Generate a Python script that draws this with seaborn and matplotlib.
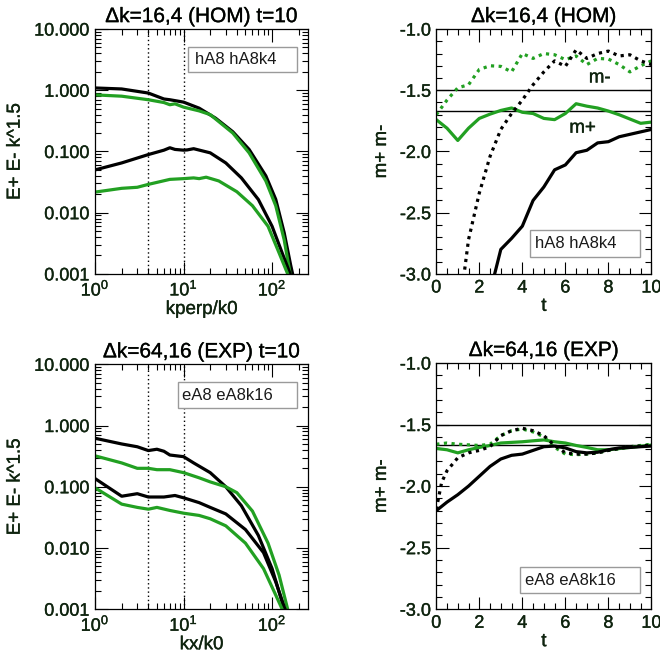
import numpy as np
import pandas as pd
import matplotlib
matplotlib.use('Agg')
import matplotlib.pyplot as plt
import matplotlib.ticker as mticker
import matplotlib.patheffects as pe
from matplotlib.patches import Rectangle
import seaborn as sns

# ---- spectra, HOM run (top left) ----
hom_black_hi_k = [1, 2, 4, 6, 7, 10, 15, 23, 36, 55, 85, 110, 137, 162, 180]
hom_black_hi = [1.09, 1.05, 0.90, 0.72, 0.70, 0.64, 0.51, 0.35, 0.21, 0.108, 0.040, 0.0165, 0.0047, 0.0014, 0.0007]
hom_green_hi_k = [1, 2, 4, 6, 7, 8, 10, 15, 20, 36, 55, 85, 110, 137, 160, 175]
hom_green_hi = [0.84, 0.80, 0.70, 0.63, 0.58, 0.60, 0.53, 0.46, 0.40, 0.20, 0.095, 0.033, 0.013, 0.0036, 0.001, 0.0005]
hom_black_lo_k = [1, 2, 4, 6, 7, 8, 10, 11, 13, 20, 30, 45, 70, 100, 130, 160, 175]
hom_black_lo = [0.050, 0.065, 0.089, 0.105, 0.115, 0.108, 0.105, 0.106, 0.111, 0.095, 0.065, 0.037, 0.0164, 0.006, 0.0022, 0.001, 0.0006]
hom_green_lo_k = [1, 2, 3, 4, 7, 10, 13, 15, 18, 25, 40, 60, 90, 120, 150, 165]
hom_green_lo = [0.0217, 0.025, 0.026, 0.029, 0.035, 0.036, 0.037, 0.036, 0.038, 0.033, 0.022, 0.013, 0.006, 0.0022, 0.001, 0.0006]

# ---- spectra, EXP run (bottom left) ----
exp_black_hi_k = [1, 2, 3, 4, 5, 6, 7, 10, 13, 20, 30, 45, 70, 100, 130, 145]
exp_black_hi = [0.62, 0.50, 0.45, 0.39, 0.41, 0.38, 0.33, 0.31, 0.245, 0.17, 0.10, 0.049, 0.016, 0.0046, 0.0013, 0.0007]
exp_green_hi_k = [1, 2, 3, 4, 5, 7, 10, 15, 20, 30, 40, 60, 90, 120, 150, 160]
exp_green_hi = [0.32, 0.245, 0.20, 0.20, 0.19, 0.19, 0.17, 0.14, 0.12, 0.10, 0.08, 0.04, 0.012, 0.0036, 0.001, 0.0007]
exp_black_lo_k = [1, 2, 3, 4, 6, 8, 10, 15, 20, 30, 50, 80, 110, 140, 150]
exp_black_lo = [0.136, 0.070, 0.077, 0.068, 0.068, 0.072, 0.066, 0.055, 0.046, 0.036, 0.020, 0.0084, 0.0028, 0.001, 0.0007]
exp_green_lo_k = [1, 2, 3, 4, 5, 7, 10, 15, 20, 30, 50, 80, 110, 130, 140]
exp_green_lo = [0.096, 0.052, 0.046, 0.043, 0.046, 0.041, 0.037, 0.034, 0.030, 0.023, 0.012, 0.0046, 0.0017, 0.001, 0.0007]

# ---- slopes vs time, HOM run (top right) ----
t_half = [0, 0.5, 1, 1.5, 2, 2.5, 3, 3.5, 4, 4.5, 5, 5.5, 6, 6.5, 7, 7.5, 8, 8.5, 9, 9.5, 10]
hom_green_mplus = [-1.74, -1.81, -1.91, -1.81, -1.73, -1.695, -1.665, -1.645, -1.68, -1.69, -1.73, -1.74,
                   -1.69, -1.61, -1.63, -1.645, -1.67, -1.70, -1.735, -1.77, -1.76]
hom_green_mminus = [-1.70, -1.58, -1.48, -1.455, -1.33, -1.30, -1.305, -1.35, -1.20, -1.24, -1.20, -1.21,
                    -1.25, -1.22, -1.29, -1.24, -1.245, -1.29, -1.35, -1.30, -1.26]
t_hom_black_mminus = [1, 1.5, 2, 2.5, 3, 3.5, 4, 4.5, 5, 5.5, 6, 6.5, 7, 7.5, 8, 8.5, 9, 9.5, 10]
hom_black_mminus = [-3.4, -2.72, -2.34, -2.04, -1.82, -1.69, -1.58, -1.455, -1.35, -1.26, -1.305, -1.17,
                    -1.24, -1.20, -1.18, -1.22, -1.21, -1.26, -1.29]
t_hom_black_mplus = [2.5, 3, 3.5, 4, 4.5, 5, 5.5, 6, 6.5, 7, 7.5, 8, 8.5, 9, 9.5, 10]
hom_black_mplus = [-3.15, -2.80, -2.71, -2.61, -2.40, -2.29, -2.15, -2.11, -2.01, -1.99, -1.93, -1.92,
                   -1.88, -1.86, -1.84, -1.82]

# ---- slopes vs time, EXP run (bottom right) ----
exp_green_mplus = [-1.694, -1.705, -1.73, -1.705, -1.686, -1.67, -1.65, -1.645, -1.64, -1.632, -1.625, -1.64,
                   -1.65, -1.67, -1.686, -1.705, -1.705, -1.695, -1.686, -1.676, -1.667]
exp_green_mminus = [-1.66, -1.65, -1.66, -1.665, -1.67, -1.66, -1.59, -1.55, -1.536, -1.56, -1.60, -1.685,
                    -1.74, -1.745, -1.74, -1.73, -1.71, -1.695, -1.68, -1.67, -1.66]
t_exp_black_mminus = [0, 0.25, 0.5, 1, 1.5, 2, 2.5, 3, 3.5, 4, 4.5, 5, 5.5, 6, 6.5, 7, 7.5, 8, 8.5, 9, 9.5, 10]
exp_black_mminus = [-2.19, -1.97, -1.875, -1.77, -1.73, -1.71, -1.68, -1.59, -1.55, -1.53, -1.55, -1.59,
                    -1.67, -1.73, -1.74, -1.74, -1.73, -1.71, -1.695, -1.68, -1.675, -1.667]
exp_black_mplus = [-2.20, -2.13, -2.07, -2.0, -1.92, -1.84, -1.78, -1.75, -1.74, -1.71, -1.68, -1.675,
                   -1.69, -1.72, -1.73, -1.725, -1.705, -1.69, -1.686, -1.68, -1.675]

GREEN = '#22a022'
TXT = '#0f240f'
LW = 2.3
DOT = (0, (1, 1.4))
BOLDISH = [pe.withStroke(linewidth=0.25, foreground=TXT)]

sns.set_style('ticks')
plt.rcParams['font.family'] = ['Liberation Sans', 'DejaVu Sans']
plt.rcParams['mathtext.fontset'] = 'custom'
plt.rcParams['mathtext.rm'] = 'Liberation Sans'
plt.rcParams['text.color'] = TXT
plt.rcParams['axes.labelcolor'] = TXT
plt.rcParams['xtick.color'] = 'black'
plt.rcParams['ytick.color'] = 'black'
plt.rcParams['xtick.labelcolor'] = TXT
plt.rcParams['ytick.labelcolor'] = TXT

fig = plt.figure(figsize=(6.6, 6.6), dpi=100)
ax_tl = fig.add_axes([0.144, 0.585, 0.323, 0.371])
ax_tr = fig.add_axes([0.661, 0.585, 0.326, 0.371])
ax_bl = fig.add_axes([0.144, 0.077, 0.323, 0.371])
ax_br = fig.add_axes([0.661, 0.077, 0.326, 0.373])


def line(ax, x, y, color, ls='-'):
    df = pd.DataFrame({'x': x, 'y': y})
    sns.lineplot(data=df, x='x', y='y', ax=ax, color=color, linewidth=LW,
                 linestyle=ls, sort=False, estimator=None)


def style_ticks(ax):
    ax.tick_params(which='both', direction='in', top=True, right=True, labelsize=13, width=0.8)
    ax.tick_params(which='major', length=9, pad=4)
    ax.tick_params(which='minor', length=4.5)
    for s in ax.spines.values():
        s.set_linewidth(0.9)
        s.set_color('black')
    for lab in ax.get_xticklabels() + ax.get_yticklabels():
        lab.set_path_effects(BOLDISH)


def label_box(ax, x0, y0, x1, y1, tx, text):
    ax.add_patch(Rectangle((x0, y0), x1 - x0, y1 - y0, transform=ax.transAxes,
                           facecolor='white', edgecolor='#9a9a9a', linewidth=1.0, zorder=5))
    ax.text(tx, (y0 + y1) / 2, text, transform=ax.transAxes, ha='left', va='center',
            fontsize=12, color='#1a1a1a', zorder=6)


def set_texts(ax, title, xlabel, ylabel):
    ax.set_title(title, fontsize=15, pad=5, color='black', path_effects=BOLDISH)
    ax.set_xlabel(xlabel, fontsize=13.5, labelpad=1, path_effects=BOLDISH)
    ax.set_ylabel(ylabel, fontsize=13.5, path_effects=BOLDISH)


def spectrum_panel(ax, curves, title, xlabel):
    for k, v, c in curves:
        line(ax, k, v, c)
    for xv in [4, 10]:
        ax.axvline(xv, color='black', linewidth=1.0, linestyle=(0, (1, 2)), zorder=1)
    ax.set_xscale('log')
    ax.set_yscale('log')
    ax.set_xlim(1, 256)
    ax.set_ylim(0.001, 10)
    ax.yaxis.set_major_formatter(mticker.FormatStrFormatter('%.3f'))
    ax.yaxis.set_minor_locator(mticker.LogLocator(base=10, subs=np.arange(2, 10)))
    ax.yaxis.set_minor_formatter(mticker.NullFormatter())
    set_texts(ax, title, xlabel, 'E+ E- k^1.5')
    ax.yaxis.set_label_coords(-0.335, 0.5)
    style_ticks(ax)


def slope_panel(ax, curves, title):
    for x, v, c, ls in curves:
        line(ax, x, v, c, ls)
    ax.axhline(-1.5, color='black', linewidth=1.0, zorder=1)
    ax.axhline(-5 / 3, color='black', linewidth=1.0, zorder=1)
    ax.set_xlim(0, 10)
    ax.set_ylim(-3.0, -1.0)
    ax.xaxis.set_major_locator(mticker.MultipleLocator(2))
    ax.xaxis.set_minor_locator(mticker.MultipleLocator(0.5))
    ax.yaxis.set_major_locator(mticker.MultipleLocator(0.5))
    ax.yaxis.set_minor_locator(mticker.MultipleLocator(0.1))
    ax.yaxis.set_major_formatter(mticker.FormatStrFormatter('%.1f'))
    set_texts(ax, title, 't', 'm+ m-')
    ax.yaxis.set_label_coords(-0.215, 0.5)
    style_ticks(ax)


spectrum_panel(ax_tl, [(hom_black_hi_k, hom_black_hi, 'black'),
                       (hom_green_hi_k, hom_green_hi, GREEN),
                       (hom_black_lo_k, hom_black_lo, 'black'),
                       (hom_green_lo_k, hom_green_lo, GREEN)],
               '\u0394k=16,4 (HOM) t=10', 'kperp/k0')
label_box(ax_tl, 0.438, 0.826, 0.947, 0.928, 0.47, 'hA8 hA8k4')

spectrum_panel(ax_bl, [(exp_black_hi_k, exp_black_hi, 'black'),
                       (exp_green_hi_k, exp_green_hi, GREEN),
                       (exp_black_lo_k, exp_black_lo, 'black'),
                       (exp_green_lo_k, exp_green_lo, GREEN)],
               '\u0394k=64,16 (EXP) t=10', 'kx/k0')
label_box(ax_bl, 0.39, 0.82, 0.948, 0.928, 0.407, 'eA8 eA8k16')

slope_panel(ax_tr, [(t_half, hom_green_mplus, GREEN, '-'),
                    (t_half, hom_green_mminus, GREEN, DOT),
                    (t_hom_black_mminus, hom_black_mminus, 'black', DOT),
                    (t_hom_black_mplus, hom_black_mplus, 'black', '-')],
            '\u0394k=16,4 (HOM)')
ax_tr.text(7.6, -1.4, 'm-', ha='center', va='center', fontsize=13.5, path_effects=BOLDISH)
ax_tr.text(6.8, -1.81, 'm+', ha='center', va='center', fontsize=13.5, path_effects=BOLDISH)
label_box(ax_tr, 0.437, 0.07, 0.949, 0.18, 0.46, 'hA8 hA8k4')

slope_panel(ax_br, [(t_half, exp_green_mplus, GREEN, '-'),
                    (t_half, exp_green_mminus, GREEN, DOT),
                    (t_exp_black_mminus, exp_black_mminus, 'black', DOT),
                    (t_half, exp_black_mplus, 'black', '-')],
            '\u0394k=64,16 (EXP)')
label_box(ax_br, 0.39, 0.064, 0.945, 0.172, 0.414, 'eA8 eA8k16')

fig.savefig('out.png', dpi=100, facecolor='white')
